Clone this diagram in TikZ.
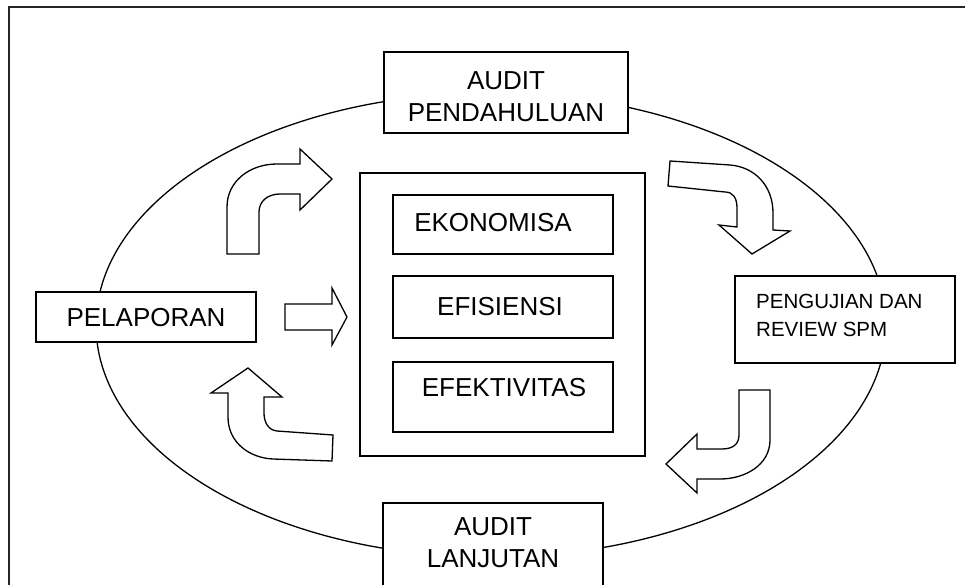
\documentclass[tikz,border=0pt]{standalone}
\usepackage{fontspec}
\setmainfont{Liberation Sans}
\begin{document}
\begin{tikzpicture}[x=1pt,y=-1pt,
  line join=miter,
  shape line/.style={draw=black,line width=1.3pt},
  box/.style={draw=black,line width=1.3pt,fill=white,rectangle,inner sep=0pt},
  lbl/.style={inner sep=0pt,font=\fontsize{26}{32}\selectfont,align=center},
  blockarrow/.style={draw=black,line width=1.3pt,fill=white}
]
\useasboundingbox (0,0) rectangle (965,585);
\clip (0,0) rectangle (965,585);
% frame
\draw[line width=2pt,draw=black!85] (9,7) rectangle (990,620);
% ellipse
\draw[shape line] (491,325) ellipse [x radius=395, y radius=232];
% boxes
\node[box,minimum width=244pt,minimum height=81pt] (pend) at (506,92.5) {};
\node[box,minimum width=220pt,minimum height=110pt] (lanj) at (493,558) {};
\node[box,minimum width=220pt,minimum height=50pt] (pel) at (146,317) {};
\node[box,minimum width=220pt,minimum height=87pt] (peng) at (845,319.5) {};
\node[box,minimum width=285pt,minimum height=283pt] (big) at (502.5,314.5) {};
\node[box,minimum width=220pt,minimum height=59pt] (eko) at (503,224.5) {};
\node[box,minimum width=220pt,minimum height=62pt] (efi) at (503,307) {};
\node[box,minimum width=220pt,minimum height=70pt] (efe) at (503,397) {};
% texts
\node[lbl] (tpend) at (506,97) {AUDIT\\PENDAHULUAN};
\node[lbl] (tlanj) at (493,543) {AUDIT\\LANJUTAN};
\node[lbl] (tpel) at (146,318) {PELAPORAN};
\node[lbl,align=left,anchor=west,font=\fontsize{20.5}{28}\selectfont] (tpeng) at (756,315) {PENGUJIAN DAN\\REVIEW SPM};
\node[lbl] (teko) at (493,223) {EKONOMISA};
\node[lbl] (tefi) at (500,307) {EFISIENSI};
\node[lbl] (tefe) at (504,388) {EFEKTIVITAS};
% block arrows
\draw[blockarrow] (227,254) -- (227,207) .. controls (227,181) and (250,164) .. (277,164)
  -- (300,164) -- (300,149) -- (332,179) -- (300,210) -- (300,194) -- (280,194)
  .. controls (268,194) and (259,201) .. (259,212) -- (259,254) -- cycle;
\draw[blockarrow] (670,161) -- (730,165) .. controls (755,167) and (773,186) .. (773,213)
  -- (773,230) -- (790,231) -- (752,254) -- (719,225) -- (737,227) -- (737,208)
  .. controls (737,198) and (733,192) .. (725,192) -- (668,186) -- cycle;
\draw[blockarrow] (739,390) -- (770,390) -- (770,440) .. controls (770,465) and (745,479) .. (720,479)
  -- (697,479) -- (697,493) -- (666,464) -- (697,434) -- (697,449) -- (722,449)
  .. controls (733,449) and (739,444) .. (739,435) -- cycle;
\draw[blockarrow] (228,393) -- (228,417) .. controls (228,443) and (250,458) .. (273,459)
  -- (332,461) -- (333,435) -- (277,431) .. controls (268,430) and (264,422) .. (264,413)
  -- (264,397) -- (282,397) -- (248,368) -- (211,393) -- cycle;
\draw[blockarrow] (285,304) -- (332,304) -- (332,288) -- (347,317) -- (332,345) -- (332,330) -- (285,330) -- cycle;
\end{tikzpicture}
\end{document}
